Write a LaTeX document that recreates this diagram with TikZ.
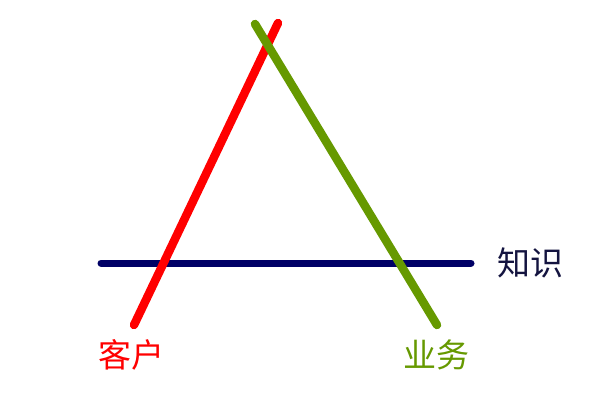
\documentclass[tikz,border=0pt]{standalone}
\usepackage{fontspec}
\newfontfamily\cjk{Noto Sans CJK SC}
\definecolor{kred}{HTML}{FF0000}
\definecolor{kgreen}{HTML}{669900}
\definecolor{knavy}{HTML}{000066}
\definecolor{knavytext}{HTML}{141440}
\begin{document}
\begin{tikzpicture}[x=1pt,y=1pt,
  stroke/.style={line width=8.5pt,line cap=round},
  lbl/.style={font=\cjk\fontsize{33}{33}\selectfont,inner sep=0pt,anchor=center}]
\useasboundingbox[fill=white] (0,0) rectangle (600,400);
\coordinate (r1) at (134,75);
\coordinate (r2) at (278,377);
\coordinate (g1) at (255,376);
\coordinate (g2) at (437,75);
\coordinate (n1) at (101,137);
\coordinate (n2) at (471,137);
\draw[stroke,knavy,line width=7pt] (n1) -- (n2);
\draw[stroke,kred] (r1) -- (r2);
\draw[stroke,kgreen] (g1) -- (g2);
\node[lbl,text=kred] (kehu) at (131,45) {客户};
\node[lbl,text=kgreen] (yewu) at (436,45) {业务};
\node[lbl,text=knavytext] (zhishi) at (530,137) {知识};
\end{tikzpicture}
\end{document}
